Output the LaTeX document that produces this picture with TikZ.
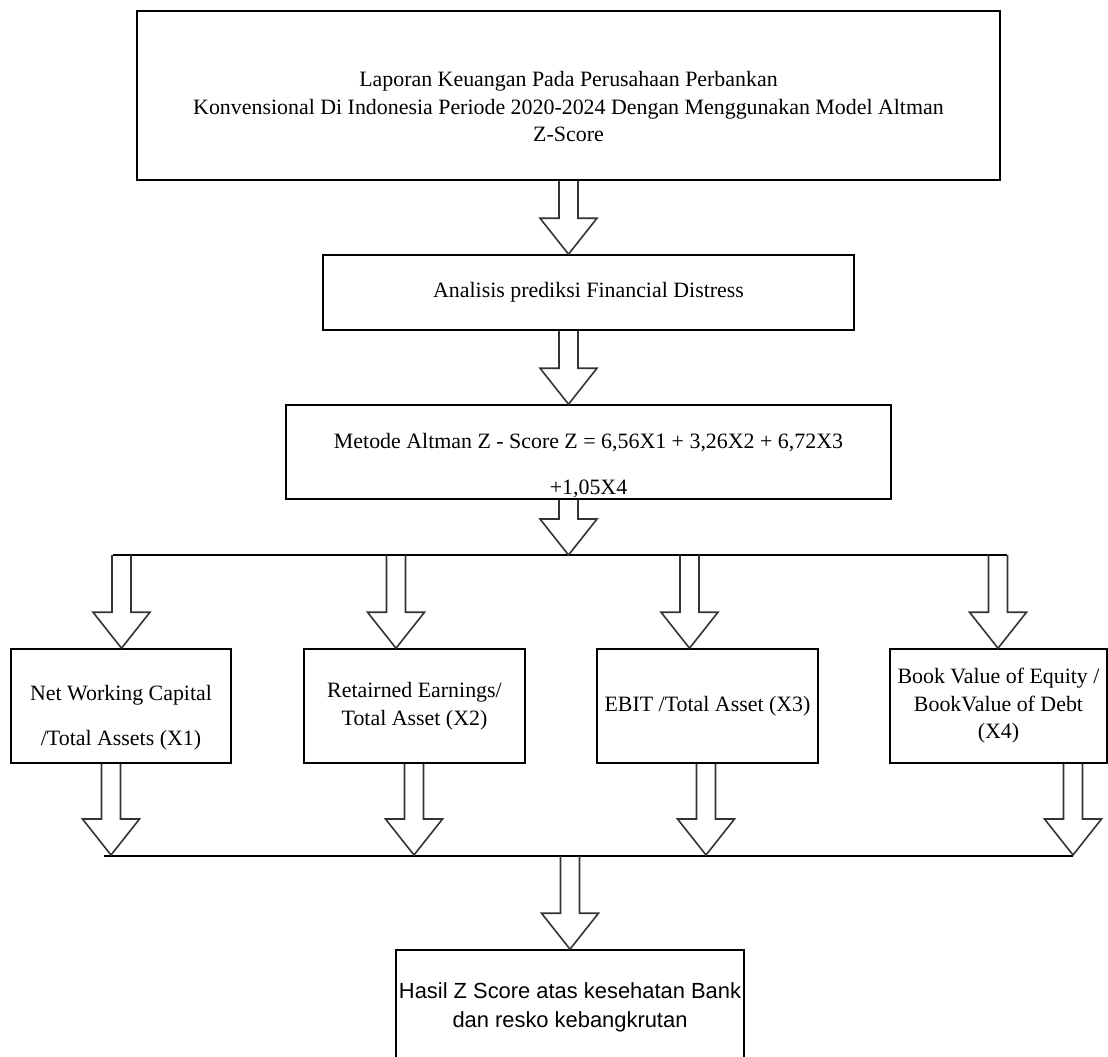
\documentclass[tikz,border=0pt]{standalone}
\usepackage{fontspec}
\setmainfont{Liberation Serif}
\newfontfamily\arialfont{Liberation Sans}
\usetikzlibrary{calc}
\newcommand\boxtext[4]{\parbox[c][#2][c]{#1}{\centering\vspace*{#3}#4\par}}
\newcommand\blockarrow[2]{\draw[hollow] let \p1=#1, \p2=#2 in
  (\x2-9.5pt,\y1) -- (\x2-9.5pt,\y2+36pt) -- (\x2-28.5pt,\y2+36pt) -- (\x2,\y2)
  -- (\x2+28.5pt,\y2+36pt) -- (\x2+9.5pt,\y2+36pt) -- (\x2+9.5pt,\y1);}

\begin{document}
\begin{tikzpicture}[x=1pt,y=-1pt,
  box/.style={draw,line width=1.6pt,inner sep=0pt,font=\fontsize{21.9}{27.5}\selectfont},
  hollow/.style={draw=black!80,line width=1.6pt,line join=miter},
  branch/.style={line width=1.6pt}]
\useasboundingbox (0,0) rectangle (1108,1057);
\node[box] (lap) at (568.5,95.5) {\boxtext{863pt}{169pt}{23pt}{Laporan Keuangan Pada Perusahaan Perbankan\\ Konvensional Di Indonesia Periode 2020-2024 Dengan Menggunakan Model Altman\\ Z-Score}};
\node[box] (ana) at (588.5,292.5) {\boxtext{531pt}{75pt}{0pt}{Analisis prediksi Financial Distress}};
\node[box] (met) at (588.5,452) {\boxtext{605pt}{94pt}{27pt}{Metode Altman Z - Score Z = 6,56X1 + 3,26X2 + 6,72X3\\[19pt] +1,05X4}};
\node[box] (nwc) at (121,706) {\boxtext{220pt}{114pt}{23pt}{Net Working Capital\\[18pt] /Total Assets (X1)}};
\node[box] (ret) at (414.5,706) {\boxtext{221pt}{114pt}{0pt}{Retairned Earnings/\\ Total Asset (X2)}};
\node[box] (ebit) at (707.5,706) {\boxtext{221pt}{114pt}{0pt}{EBIT /Total Asset (X3)}};
\node[box] (bv) at (998.5,706) {\boxtext{217pt}{114pt}{0pt}{Book Value of Equity /\\ BookValue of Debt\\ (X4)}};
\node[box,font=\arialfont\fontsize{21.9}{29}\selectfont] (hasil) at (570,1007.5) {\boxtext{348pt}{115pt}{0pt}{Hasil Z Score atas kesehatan Bank\\ dan resko kebangkrutan}};

\coordinate (bl) at (113,555);
\coordinate (br) at (1007,555);
\coordinate (cl) at (104,856);
\coordinate (cr) at (1073,856);
\draw[branch] (bl) -- (br);
\draw[branch] (cl) -- (cr);

\blockarrow{(lap.south)}{(lap.south |- ana.north)}
\blockarrow{(lap.south |- ana.south)}{(lap.south |- met.north)}
\blockarrow{(lap.south |- met.south)}{(lap.south |- bl)}
\foreach \ax/\nd in {121.5/nwc,396/ret,689.5/ebit,998/bv}
  \blockarrow{(\ax,555)}{(\ax,555 |- \nd.north)};
\foreach \ax/\nd in {111/nwc,414/ret,706/ebit,1073/bv}
  \blockarrow{(\nd.south -| \ax,0)}{(\ax,855)};
\blockarrow{(hasil.north |- cl)}{(hasil.north)}
\end{tikzpicture}
\end{document}
